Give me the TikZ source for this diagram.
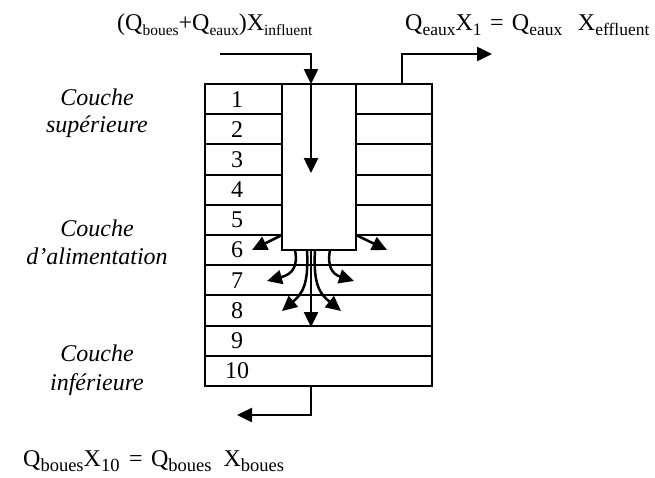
\documentclass[tikz,border=0pt]{standalone}
\usepackage{fontspec}
\setmainfont{Liberation Serif}
\usetikzlibrary{arrows.meta}
\newcommand{\sbs}[2][16]{\raisebox{-0.22em}{\fontsize{#1}{#1}\selectfont #2}}
\begin{document}
\begin{tikzpicture}[x=1pt,y=-1pt,
  wall/.style={line width=2pt},
  flow/.style={line width=2.5pt,-{Triangle[length=15pt,width=14pt]}},
  lbl/.style={font=\fontsize{24}{28}\selectfont, inner sep=0pt},
  layer/.style={font=\fontsize{24}{28}\selectfont\itshape, inner sep=0pt, anchor=base},
  num/.style={font=\fontsize{24}{28}\selectfont, inner sep=0pt}]
\useasboundingbox (0,0) rectangle (655,477);
\def\rh{30.2}
% column and tube
\draw[wall] (205,84) rectangle (432,386);
\draw[wall] (282,84) rectangle (356,250);
\foreach \i in {1,...,5}{
  \draw[wall] (205,84+\rh*\i) -- (282,84+\rh*\i);
  \draw[wall] (356,84+\rh*\i) -- (432,84+\rh*\i);
}
\foreach \i in {6,...,9}{
  \draw[wall] (205,84+\rh*\i) -- (432,84+\rh*\i);
}
\foreach \i in {1,...,10}{
  \node[num] (n\i) at (237,84+\rh*\i-\rh/2) {\i};
}
% layer labels
\node[layer] (c1a) at (97,105) {Couche};
\node[layer] (c1b) at (97,132) {supérieure};
\node[layer] (c2a) at (97,236) {Couche};
\node[layer] (c2b) at (97,264) {d’alimentation};
\node[layer] (c3a) at (97,361) {Couche};
\node[layer] (c3b) at (97,390) {inférieure};
% flow labels
\node[lbl, anchor=base west] (lin) at (117,30) {(Q\sbs[15.5]{boues}+Q\sbs[15.5]{eaux})X\sbs[15.5]{influent}};
\node[lbl, anchor=base west] (lout) at (405,30) {Q\sbs[17.5]{eaux}X\sbs[17.5]{1}\hspace{0.1em} = \hspace{0.1em}Q\sbs[17.5]{eaux}\hspace{0.4em} X\sbs[17.5]{effluent}};
\node[lbl, anchor=base west] (lbot) at (23,466) {Q\sbs[18.5]{boues}X\sbs[18.5]{10}\hspace{0.15em} = \hspace{0.1em}Q\sbs[18.5]{boues}\hspace{0.25em} X\sbs[18.5]{boues}};
% coordinates
\coordinate (inS) at (220,54);
\coordinate (inC) at (311,54);
\coordinate (inT) at (311,84);
\coordinate (tubeE) at (311,173);
\coordinate (outS) at (402,84);
\coordinate (outC) at (402,54);
\coordinate (outE) at (492,54);
\coordinate (botS) at (311,386);
\coordinate (botC) at (311,415);
\coordinate (botE) at (237,415);
\coordinate (aLs) at (282,235);
\coordinate (aLe) at (252,250);
\coordinate (aRs) at (356,235);
\coordinate (aRe) at (387,250);
\coordinate (cLs) at (295,250);
\coordinate (cLe) at (267,281);
\coordinate (cRs) at (330,250);
\coordinate (cRe) at (354,281);
\coordinate (eLs) at (307,250);
\coordinate (eLe) at (282,311);
\coordinate (fs) at (311,250);
\coordinate (fe) at (311,327);
\coordinate (gRs) at (315,250);
\coordinate (gRe) at (341,311);
% arrows
\draw[flow] (inS) -- (inC) -- (inT);
\draw[flow] (inT) -- (tubeE);
\draw[flow] (outS) -- (outC) -- (outE);
\draw[flow] (botS) -- (botC) -- (botE);
\draw[flow] (aLs) -- (aLe);
\draw[flow] (aRs) -- (aRe);
\draw[flow] (cLs) .. controls (298,266) and (293,274) .. (cLe);
\draw[flow] (cRs) .. controls (327,266) and (332,274) .. (cRe);
\draw[flow] (eLs) .. controls (309,285) and (302,294) .. (eLe);
\draw[flow] (fs) -- (fe);
\draw[flow] (gRs) .. controls (313,285) and (320,294) .. (gRe);
\end{tikzpicture}
\end{document}
